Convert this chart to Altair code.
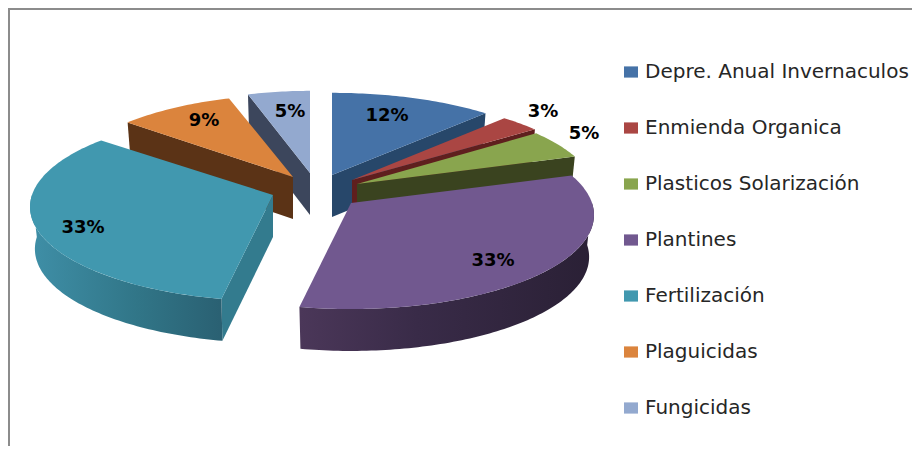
import math
import altair as alt
import pandas as pd

# --- chart values ---
categories = ["Depre. Anual Invernaculos", "Enmienda Organica", "Plasticos Solarización",
              "Plantines", "Fertilización", "Plaguicidas", "Fungicidas"]
shares = [12, 3, 5, 33, 33, 9, 5]
top_colors = ["#4572A7", "#AA4643", "#89A54E", "#71588F", "#4198AF", "#DB843D", "#93A9CF"]
wall_colors = ["#27476A", "#5F1F1E", "#3A431F", "#2C2238", "#337B8E", "#5B3316", "#3C465C"]

# --- layout of the exploded 3-D pie (page pixels) ---
apex_x = [332, 352, 357, 351, 273, 293, 310]
apex_y = [175, 180, 184, 203, 195, 177, 173]
radius_x = [245, 243, 238, 241, 241, 232, 225]
label_x = [387, 543, 584, 493, 83, 204, 290]
label_y = [116, 112, 134, 261, 228, 121, 112]
paint_order = [6, 5, 0, 1, 2, 4, 3]
RY, PERSP = 92.6, 0.127
DEPTH = 42.0
SHRINK = 0.98
PAGE = 8

arc_walls = {
    3: [("#4B3759", 0), ("#392B48", 0.4), ("#2A2035", 1)],
    4: [("#3F8FA7", 0), ("#317688", 0.55), ("#2A6072", 1)],
}


def project_point(i, deg, bottom=False):
    a = math.radians(deg)
    u, v = math.sin(a), math.cos(a)
    s = 1 / (1 + PERSP * v)
    f = SHRINK if bottom else 1.0
    x = apex_x[i] + radius_x[i] * u * s * f
    y = apex_y[i] - RY * v * s * f
    if bottom:
        y += DEPTH - 2 * v
    return [x, y]


def apex(i, bottom=False):
    return [apex_x[i], apex_y[i] + (DEPTH if bottom else 0)]


def feature(ring, name):
    return {"type": "Feature", "properties": {"name": name},
            "geometry": {"type": "Polygon", "coordinates": [ring + [ring[0]]]}}


def arc_points(i, a0, a1, bottom=False):
    n = max(2, int(abs(a1 - a0)))
    return [project_point(i, a0 + (a1 - a0) * k / n, bottom) for k in range(n + 1)]


starts = []
acc = 0
for v in shares:
    starts.append(acc * 3.6)
    acc += v

layers = []
for i in paint_order:
    a0, a1 = starts[i], starts[i] + shares[i] * 3.6
    # cut wall facing the viewer
    if 180 <= a0 < 360:
        edge = a0
    elif 0 < a1 < 180:
        edge = a1
    else:
        edge = None
    if edge is not None:
        ring = [apex(i), project_point(i, edge), project_point(i, edge, True), apex(i, True)]
        layers.append(alt.Chart(alt.Data(values=[feature(ring, categories[i])])).mark_geoshape(
            fill=wall_colors[i], strokeWidth=0))
    # outer curved wall
    if i in arc_walls:
        w0, w1 = max(a0, 90), min(a1, 270)
        ring = arc_points(i, w0, w1) + arc_points(i, w1, w0, True)
        grad = alt.LinearGradient(
            gradient="linear", x1=0, x2=1, y1=0, y2=0,
            stops=[alt.GradientStop(color=c, offset=o) for c, o in arc_walls[i]])
        layers.append(alt.Chart(alt.Data(values=[feature(ring, categories[i])])).mark_geoshape(
            fill=grad, strokeWidth=0))
    # top face, carries the legend
    ring = [apex(i)] + arc_points(i, a0, a1)
    layers.append(alt.Chart(alt.Data(values=[feature(ring, categories[i])])).mark_geoshape(
        strokeWidth=0).encode(
        color=alt.Color("properties.name:N",
                        scale=alt.Scale(domain=categories, range=top_colors),
                        sort=categories,
                        legend=alt.Legend(orient="none", legendX=613, legendY=54, title=None,
                                          symbolType="M-1,-0.8H1V0.8H-1Z", symbolSize=196,
                                          symbolStrokeWidth=0, labelFont="DejaVu Sans",
                                          labelFontSize=20, labelColor="#262626",
                                          labelLimit=300, rowPadding=36, labelOffset=4))))

labels = pd.DataFrame({"lon": label_x, "lat": label_y,
                       "txt": [f"{v}%" for v in shares]})
layers.append(alt.Chart(labels).mark_text(font="DejaVu Sans", fontWeight="bold", fontSize=18,
                                          color="#000000").encode(
    longitude="lon:Q", latitude="lat:Q", text="txt:N"))

frame_left = alt.Chart(pd.DataFrame({"a": [0]})).mark_rule(color="#8C8C8C", strokeWidth=2).encode(
    x=alt.value(1), y=alt.value(0), y2=alt.value(438))
frame_top = alt.Chart(pd.DataFrame({"a": [0]})).mark_rule(color="#8C8C8C", strokeWidth=2).encode(
    y=alt.value(1), x=alt.value(0), x2=alt.value(904))

chart = alt.layer(frame_left, frame_top, *layers).project(
    type="identity", scale=1, translate=[-PAGE, -PAGE]
).properties(
    width=904, height=438, padding=0,
    autosize=alt.AutoSizeParams(type="none"),
    background="white",
).configure_view(strokeWidth=0)

chart.save("out.html", embed_options={"renderer": "svg", "actions": False})
